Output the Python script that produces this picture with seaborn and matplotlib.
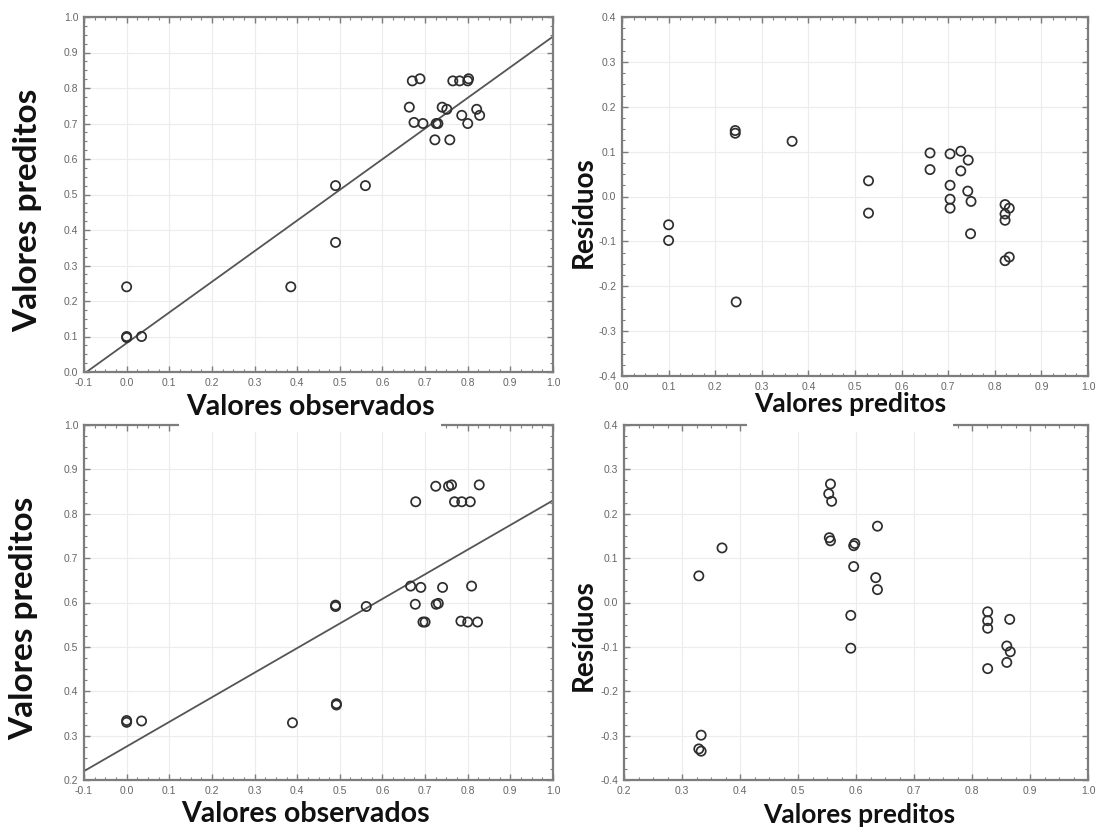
import matplotlib
matplotlib.use("Agg")
import matplotlib.pyplot as plt
from matplotlib.patches import Rectangle
from matplotlib.ticker import MultipleLocator, FixedLocator, FixedFormatter
import seaborn as sns

# ---- Model 1: observed vs predicted ----
obs_1 = [0.0, 0.0, 0.0, 0.035, 0.385, 0.49, 0.49, 0.56,
         0.670, 0.688, 0.765, 0.781, 0.800, 0.802, 0.663, 0.740, 0.751,
         0.786, 0.821, 0.828, 0.800, 0.674, 0.695, 0.726, 0.730, 0.723, 0.758]
pred_1 = [0.24, 0.10, 0.097, 0.10, 0.24, 0.525, 0.365, 0.525,
          0.820, 0.826, 0.820, 0.820, 0.820, 0.826, 0.746, 0.746, 0.740,
          0.723, 0.740, 0.723, 0.700, 0.703, 0.700, 0.700, 0.700, 0.654, 0.654]
fit_x = [-0.1, 1.0]
fit_y_1 = [-0.005, 0.945]

# ---- Model 1: residuals vs predicted ----
rpred_1 = [0.10, 0.10, 0.243, 0.243, 0.245, 0.365, 0.529, 0.529,
           0.661, 0.661, 0.704, 0.704, 0.704, 0.704, 0.727, 0.727,
           0.743, 0.742, 0.749, 0.748, 0.822, 0.831, 0.822, 0.822, 0.822, 0.831]
res_1 = [-0.063, -0.098, 0.141, 0.147, -0.235, 0.123, 0.035, -0.037,
         0.097, 0.060, 0.095, 0.025, -0.006, -0.026, 0.101, 0.057,
         0.081, 0.012, -0.011, -0.083, -0.018, -0.026, -0.039, -0.053, -0.143, -0.135]

# ---- Model 2: observed vs predicted ----
obs_2 = [0.0, 0.0, 0.035, 0.389, 0.492, 0.492, 0.49, 0.49, 0.562,
         0.823, 0.800, 0.784, 0.700, 0.695,
         0.726, 0.731, 0.677, 0.809, 0.741, 0.690, 0.666,
         0.806, 0.786, 0.769, 0.678, 0.827, 0.762, 0.755, 0.725]
pred_2 = [0.330, 0.334, 0.333, 0.329, 0.369, 0.372, 0.591, 0.594, 0.591,
          0.556, 0.556, 0.558, 0.556, 0.556,
          0.596, 0.598, 0.596, 0.637, 0.634, 0.634, 0.637,
          0.827, 0.827, 0.827, 0.827, 0.865, 0.865, 0.862, 0.862]
fit_y_2 = [0.22, 0.83]

# ---- Model 2: residuals vs predicted ----
rpred_2 = [0.369, 0.329, 0.333, 0.329, 0.333,
           0.556, 0.553, 0.558, 0.554, 0.556, 0.598, 0.596, 0.596, 0.637,
           0.634, 0.637, 0.591, 0.591,
           0.827, 0.827, 0.827, 0.827, 0.865, 0.860, 0.866, 0.860]
res_2 = [0.123, 0.060, -0.299, -0.330, -0.335,
         0.267, 0.245, 0.228, 0.146, 0.139, 0.133, 0.128, 0.081, 0.172,
         0.056, 0.029, -0.029, -0.103,
         -0.021, -0.041, -0.058, -0.149, -0.038, -0.098, -0.111, -0.135]

# Tick labels
ticks_obs = [-0.1, 0.0, 0.1, 0.2, 0.3, 0.4, 0.5, 0.6, 0.7, 0.8, 0.9, 1.0]
ticks_pred_1 = [0.0, 0.1, 0.2, 0.3, 0.4, 0.5, 0.6, 0.7, 0.8, 0.9, 1.0]
ticks_pred_2 = [0.2, 0.3, 0.4, 0.5, 0.6, 0.7, 0.8, 0.9, 1.0]
ticks_res = [-0.4, -0.3, -0.2, -0.1, 0.0, 0.1, 0.2, 0.3, 0.4]

sns.set_theme(style="white")
plt.rcParams["font.family"] = ["Lato", "DejaVu Sans"]

W, H = 1097, 827
fig = plt.figure(figsize=(W / 100, H / 100), dpi=100)
fig.patch.set_facecolor("white")


def box(l, r, t, b):
    return [l / W, 1 - b / H, (r - l) / W, (b - t) / H]


SPINE = "#7d7d7d"
INK = "#2e2e2e"


def style_axes(ax, xt, yt, xlim, ylim, minor=0.025):
    ax.set_xlim(*xlim)
    ax.set_ylim(*ylim)
    ax.xaxis.set_major_locator(FixedLocator(xt))
    ax.yaxis.set_major_locator(FixedLocator(yt))
    ax.xaxis.set_major_formatter(FixedFormatter([f"{v:.1f}" for v in xt]))
    ax.yaxis.set_major_formatter(FixedFormatter([f"{v:.1f}" for v in yt]))
    ax.xaxis.set_minor_locator(MultipleLocator(minor))
    ax.yaxis.set_minor_locator(MultipleLocator(minor))
    ax.grid(True, which="major", color="#ececec", linewidth=0.8)
    ax.set_axisbelow(True)
    for s in ax.spines.values():
        s.set_color(SPINE)
        s.set_linewidth(1.6)
        s.set_visible(True)
    ax.tick_params(which="both", direction="in", top=True, right=True,
                   bottom=True, left=True, color=SPINE)
    ax.tick_params(which="major", length=4, width=1.0, labelsize=7.5,
                   labelcolor="#666666", pad=4)
    ax.tick_params(which="minor", length=2, width=0.8)
    for lab in ax.get_xticklabels() + ax.get_yticklabels():
        lab.set_fontfamily(["Liberation Sans", "DejaVu Sans"])
    ax.set_xlabel("")
    ax.set_ylabel("")


def points(ax, x, y):
    sns.scatterplot(x=x, y=y, ax=ax, marker="o", s=44, facecolor="none",
                    edgecolor=INK, linewidth=1.25, zorder=3)


ax_tl = fig.add_axes(box(84, 553, 17, 372))
ax_tr = fig.add_axes(box(622, 1088, 17, 376))
ax_bl = fig.add_axes(box(84, 553, 425, 780))
ax_br = fig.add_axes(box(624, 1088, 425, 780))

# Observed vs predicted, model 1
sns.lineplot(x=fit_x, y=fit_y_1, ax=ax_tl, color="#555555", linewidth=1.3)
points(ax_tl, obs_1, pred_1)
style_axes(ax_tl, ticks_obs, ticks_pred_1, (-0.1, 1.0), (0.0, 1.0))

# Residuals, model 1
points(ax_tr, rpred_1, res_1)
style_axes(ax_tr, ticks_pred_1, ticks_res, (0.0, 1.0), (-0.4, 0.4))

# Observed vs predicted, model 2
sns.lineplot(x=fit_x, y=fit_y_2, ax=ax_bl, color="#555555", linewidth=1.3)
points(ax_bl, obs_2, pred_2)
style_axes(ax_bl, ticks_obs, ticks_pred_2, (-0.1, 1.0), (0.2, 1.0))

# Residuals, model 2
points(ax_br, rpred_2, res_2)
style_axes(ax_br, ticks_pred_2, ticks_res, (0.2, 1.0), (-0.4, 0.4))

LABEL = "#111111"


def ftext(x, y, s, size, rot=0):
    return fig.text(x / W, 1 - y / H, s, ha="center", va="center",
                    rotation=rot, fontsize=size, fontweight="bold",
                    color=LABEL, zorder=10)


ftext(28, 210, "Valores preditos", 24, rot=90)
ftext(24, 618, "Valores preditos", 24, rot=90)
ftext(584, 212, "Resíduos", 20, rot=90)
ftext(584, 635, "Resíduos", 20, rot=90)
t_tl = ftext(310, 407, "Valores observados", 20.5)
t_tr = ftext(850, 404, "Valores preditos", 19)
ftext(305, 814, "Valores observados", 20.5)
ftext(859, 815, "Valores preditos", 19)

# White band under the upper x labels, breaking the lower panels' top frame
fig.canvas.draw()
for t in (t_tl, t_tr):
    bb = t.get_window_extent()
    x0, x1 = bb.x0 - 7, bb.x1 + 7
    y_top = (bb.y0 + bb.y1) / 2
    y_bot = H - 432
    fig.add_artist(Rectangle((x0 / W, y_bot / H), (x1 - x0) / W,
                             (y_top - y_bot) / H, transform=fig.transFigure,
                             facecolor="white", edgecolor="none", zorder=9))

fig.savefig("out.png", dpi=100, facecolor="white")
